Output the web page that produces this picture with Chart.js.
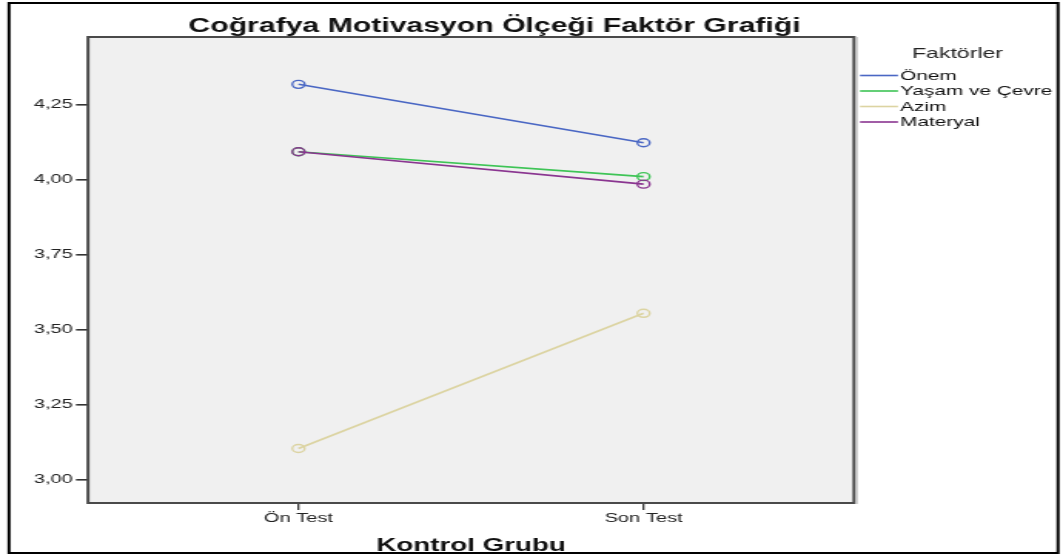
<!DOCTYPE html>
<html>
<head>
<meta charset="utf-8">
<script src="https://cdn.jsdelivr.net/npm/chart.js@4/dist/chart.umd.min.js"></script>
<style>
  html, body { margin: 0; padding: 0; background: #fff; }
  #chart { display: block; width: 1063px; height: 556px; }
</style>
</head>
<body>
<canvas id="chart" width="690" height="556" style="width:1063px;height:556px"></canvas>
<script>
/* data */
let categories = ['Ön Test', 'Son Test'];
let seriesNames = ['Önem', 'Yaşam ve Çevre', 'Azim', 'Materyal'];
let onem = [4.318, 4.123];
let yasamCevre = [4.093, 4.010];
let azim = [3.103, 3.554];
let materyal = [4.093, 3.985];
let yTicks = [3.00, 3.25, 3.50, 3.75, 4.00, 4.25];
/**/

let chartTitle = 'Coğrafya Motivasyon Ölçeği Faktör Grafiği';
let xTitle = 'Kontrol Grubu';
let legendTitle = 'Faktörler';
let colors = ['#4a67c4', '#3ec456', '#dcd4a2', '#8a3590'];

// the picture is stretched sideways, so draw narrow and widen with css
let stretch = 1063 / 690;
let font = '"Liberation Sans", Arial, sans-serif';

function points(values) {
    return values.map((v, i) => ({x: i, y: v}));
}

function makeDataset(name, values, color, order) {
    return {
        label: name,
        data: points(values),
        borderColor: color,
        backgroundColor: 'rgba(0,0,0,0)',
        borderWidth: 1.6,
        pointRadius: 4,
        pointBorderWidth: 1.4,
        pointBackgroundColor: 'rgba(0,0,0,0)',
        pointBorderColor: color,
        order: order
    };
}

let framePlugin = {
    id: 'frame',
    beforeDatasetsDraw(chart) {
        let a = chart.chartArea;
        let ctx = chart.ctx;
        ctx.save();
        ctx.fillStyle = '#f0f0f0';
        ctx.fillRect(a.left, a.top, a.right - a.left, a.bottom - a.top);
        ctx.restore();
    },
    afterDraw(chart) {
        let a = chart.chartArea;
        let ctx = chart.ctx;
        ctx.save();
        // plot frame
        ctx.strokeStyle = '#4a4a4a';
        ctx.lineWidth = 2;
        ctx.strokeRect(a.left, a.top, a.right - a.left, a.bottom - a.top);
        ctx.strokeStyle = '#b8b8b8';
        ctx.lineWidth = 1;
        ctx.beginPath();
        ctx.moveTo(a.right + 1.8, a.top);
        ctx.lineTo(a.right + 1.8, a.bottom + 1);
        ctx.stroke();

        // outer border
        ctx.strokeStyle = '#000';
        ctx.lineWidth = 2;
        ctx.strokeRect(9 / stretch, 3, (1058 - 9) / stretch, 550);

        // chart title
        ctx.fillStyle = '#111';
        ctx.textAlign = 'center';
        ctx.textBaseline = 'alphabetic';
        ctx.font = 'bold 19.6px ' + font;
        ctx.fillText(chartTitle, 494.5 / stretch, 32);

        // x axis title
        ctx.font = 'bold 18px ' + font;
        ctx.fillText(xTitle, (a.left + a.right) / 2, 551);

        // legend
        ctx.font = '15px ' + font;
        ctx.fillStyle = '#222';
        ctx.fillText(legendTitle, 957.5 / stretch, 58);
        ctx.textAlign = 'left';
        ctx.textBaseline = 'middle';
        ctx.font = '13.5px ' + font;
        chart.data.datasets.forEach((ds, i) => {
            let y = 75.5 + i * 15.5;
            ctx.strokeStyle = ds.borderColor;
            ctx.lineWidth = 1.6;
            ctx.beginPath();
            ctx.moveTo(860 / stretch, y);
            ctx.lineTo(898 / stretch, y);
            ctx.stroke();
            ctx.fillStyle = '#111';
            ctx.fillText(ds.label, 900 / stretch, y + 0.5);
        });
        ctx.restore();
    }
};

window.onload = function() {
    let canvas = document.getElementById('chart');
    let plotLeft = 88 / stretch;
    let plotRight = 854 / stretch;

    new Chart(canvas, {
        type: 'line',
        data: {
            datasets: [
                makeDataset(seriesNames[0], onem, colors[0], 3),
                makeDataset(seriesNames[1], yasamCevre, colors[1], 2),
                makeDataset(seriesNames[2], azim, colors[2], 1),
                makeDataset(seriesNames[3], materyal, colors[3], 0)
            ]
        },
        options: {
            responsive: false,
            animation: false,
            devicePixelRatio: 1,
            layout: {
                padding: {left: 0, top: 37, right: 690 - plotRight, bottom: 0}
            },
            plugins: {
                legend: {display: false},
                title: {display: false},
                tooltip: {enabled: false}
            },
            scales: {
                x: {
                    type: 'linear',
                    min: -0.61,
                    max: 1.61,
                    afterBuildTicks(scale) {
                        scale.ticks = categories.map((c, i) => ({value: i}));
                    },
                    afterFit(scale) {
                        scale.height = 556 - 503;
                    },
                    border: {display: false},
                    grid: {
                        drawOnChartArea: false,
                        drawTicks: true,
                        tickLength: 7,
                        color: '#333',
                        lineWidth: 1.3
                    },
                    ticks: {
                        padding: 1,
                        color: '#222',
                        maxRotation: 0,
                        font: {family: font, size: 13},
                        callback: (v) => categories[v]
                    }
                },
                y: {
                    min: 2.921,
                    max: 4.476,
                    afterBuildTicks(scale) {
                        scale.ticks = yTicks.map(v => ({value: v}));
                    },
                    afterFit(scale) {
                        scale.width = plotLeft;
                    },
                    border: {display: false},
                    grid: {
                        drawOnChartArea: false,
                        drawTicks: true,
                        tickLength: 7.8,
                        color: '#333',
                        lineWidth: 1.6
                    },
                    ticks: {
                        padding: 2,
                        color: '#222',
                        font: {family: font, size: 13},
                        callback: (v) => v.toFixed(2).replace('.', ',')
                    }
                }
            }
        },
        plugins: [framePlugin]
    });
};
</script>
</body>
</html>
